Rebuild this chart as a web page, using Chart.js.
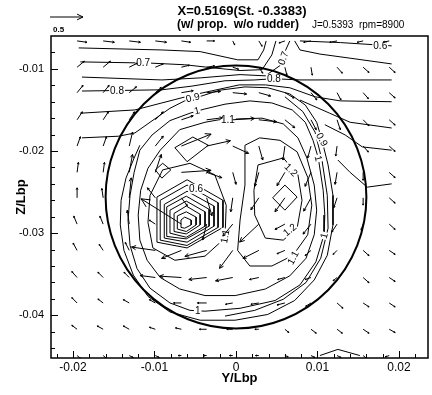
<!doctype html>
<html lang="en">
<head>
<meta charset="UTF-8" />
<title>Wake X=0.5169</title>
<style>
  body { margin: 0; background: #fff; }
  .chartBox { width: 432px; height: 395px; }
</style>
</head>
<body>
<div class="chartBox"><canvas id="myChart" width="432" height="395"></canvas></div>
<script src="https://cdn.jsdelivr.net/npm/chart.js"></script>
<script>
// all lengths below are in units of 1e-3 Lbp
const UNIT = 0.001;
const TITLE = "X=0.5169(St. -0.3383)";
const SUBTITLE = "(w/ prop.  w/o rudder)";
const RUN_INFO = "J=0.5393  rpm=8900";
const X_TICKS = [-0.02, -0.01, 0, 0.01, 0.02];
const Y_TICKS = [-0.04, -0.03, -0.02, -0.01];

// measurement grid for the cross-flow vectors
const X_GRID = [-19.5, -16.3, -13.1, -9.9, -6.7, -3.6, -0.4, 2.8, 6.0, 9.2, 12.4, 15.6, 18.8];
const Z_GRID = [-6.6, -9.8, -12.9, -16.2, -19.4, -22.6, -25.7, -28.9, -32.1, -35.4, -38.5, -41.7, -44.9];
// v/U and w/U, one row per Z_GRID value
const U = [
  [.15, .17, .17, .17, .14, .12, .03, .05, -.09, -.11, -.11, -.09, -.09],
  [.11, .11, .12, .12, .12, .12, .09, .06, .03, .02, .08, .09, .09],
  [.09, .09, .11, .09, .18, .21, .21, .18, .14, .09, .06, .08, .09],
  [.08, .08, .08, .12, .18, .24, .33, .27, .15, .08, .05, .09, .09],
  [.05, .05, .05, .12, .45, .36, .24, .06, -.03, -.05, -.02, .08, .09],
  [.02, .02, .05, .09, .45, .23, .05, -.06, -.12, -.09, -.03, 0, .09],
  [0, -.02, .03, -.12, .09, .08, -.03, -.12, -.15, -.11, -.05, 0, .09],
  [-.05, -.05, -.03, -.09, -.61, -.06, -.15, -.29, -.15, -.12, -.08, -.03, .09],
  [-.06, -.06, -.06, -.36, -.3, -.33, -.2, -.24, -.12, -.09, -.06, .09, .09],
  [-.08, -.08, -.08, -.23, -.33, -.27, -.26, -.14, -.11, -.09, -.06, .09, .09],
  [-.08, -.08, -.09, -.09, -.12, -.14, -.11, -.12, -.12, -.08, .09, .09, .09],
  [-.08, -.09, -.09, -.09, -.09, -.11, -.09, -.06, .06, .08, .08, .09, .09],
  [.06, .06, .06, .06, -.05, -.05, -.05, -.05, .05, .06, .06, .06, -.06]
];
const V = [
  [-.02, -.02, -.02, -.02, -.02, 0, -.06, -.08, -.03, -.02, -.02, -.02, -.02],
  [.09, .09, .06, .05, .03, .02, -.03, -.09, -.12, -.12, -.09, -.08, -.08],
  [.11, .11, .09, .08, .03, .02, -.02, -.05, -.08, -.11, -.11, -.09, -.08],
  [.12, .12, .12, .12, .06, .03, .02, -.03, -.12, -.15, -.15, -.09, -.08],
  [.14, .14, .21, .15, .18, .08, -.11, -.21, -.21, -.18, -.15, -.09, -.08],
  [.15, .15, .27, .27, .03, -.08, -.18, -.21, -.2, -.21, -.18, -.12, -.08],
  [.15, .14, .3, .15, -.12, -.27, -.21, -.18, -.21, -.2, -.15, -.11, -.08],
  [.12, .12, .21, .06, .38, -.24, -.18, -.27, -.08, -.15, -.12, -.09, -.08],
  [.11, .09, .12, .05, -.12, -.09, -.27, -.12, -.05, -.08, -.06, -.08, -.06],
  [.09, .08, .08, .03, .02, -.03, -.05, -.03, -.03, -.03, -.05, -.08, -.06],
  [.08, .06, .05, .05, 0, 0, -.02, -.02, -.03, -.05, -.08, -.06, -.06],
  [.06, .05, .05, .03, .02, 0, 0, 0, -.05, -.06, -.06, -.06, -.05],
  [-.05, -.05, -.03, -.03, 0, 0, 0, 0, -.02, -.03, -.03, -.05, -.02]
];
const VEC_REF = 0.5;      // reference arrow
const VEC_LEN = 8.1;      // 1e-3 Lbp per unit velocity

// propeller disk
const PROP_CENTER = [0.0, -25.6];
const PROP_RADIUS = 16.0;

// axial velocity contours, [y, z]
const LINE_T1 = [[-19.3, -7.45], [-9.1, -7.7], [-4.4, -7.9], [0.2, -8.9], [2.7, -8.9], [3.4, -7.7], [3.7, -6.6]];
const LINE_T2 = [[-19.1, -9.15], [-10.55, -9.3], [-6.3, -9.5], [-2.6, -9.9], [0.5, -10.2], [3.2, -10.1], [4.4, -8.3], [4.9, -6.6]];
const LINE_T3 = [[-18.9, -11.0], [-9.1, -11.35], [-4.4, -11.1], [0.5, -10.7], [3.6, -10.85], [5.4, -9.6], [6.1, -7.7], [6.6, -6.6]];
const LINE_T4 = [[-18.9, -12.7], [-9.1, -12.55], [-5.4, -12.1], [-1.35, -11.45], [2.3, -11.35], [4.65, -11.2], [7.85, -11.35], [11.5, -11.35], [15.2, -11.35], [19.1, -11.35]];
const LINE_T5 = [[-19.1, -15.4], [-12.4, -15.0], [-9.1, -14.15], [-5.4, -13.2], [0.4, -11.95], [3.6, -11.95], [6.6, -12.3], [9.7, -13.4], [12.8, -13.9], [19.1, -14.0]];
const LINE_R06 = [[7.85, -6.6], [12.8, -6.8], [19.1, -7.2]];
const LINE_R2 = [[7.2, -6.6], [7.85, -7.7], [10.3, -8.2], [14.0, -8.7], [19.1, -9.4]];
const LINE_R3 = [[7.85, -13.8], [11.5, -15.4], [14.0, -16.5], [19.1, -17.2]];
const LINE_R4 = [[10.9, -16.8], [13.4, -18.05], [15.5, -19.5], [19.1, -19.9]];
const LINE_R5 = [[12.5, -21.1], [14.0, -22.6], [16.1, -24.4], [19.1, -24.0]];
const RING_09 = [[-18.9, -18.4], [-14.4, -18.2], [-12.4, -17.8], [-10.55, -16.5], [-8.1, -14.8], [-6.3, -13.9], [-4.2, -13.3], [-2.0, -12.6], [1.1, -12.2], [3.9, -12.3], [6.6, -13.05], [8.5, -14.4], [9.9, -16.5], [10.55, -18.7], [11.3, -21.7], [11.9, -25.4], [11.9, -29.0], [11.2, -32.7], [9.6, -35.7], [7.2, -38.2], [3.9, -39.9], [-0.1, -40.6], [-4.4, -40.6], [-8.1, -39.6], [-10.8, -37.7], [-12.6, -35.1], [-13.75, -32.1], [-14.2, -29.0], [-14.1, -26.0], [-13.5, -23.3], [-12.5, -20.85], [-11.8, -19.3]];
const RING_09B = [[6.0, -13.4], [8.2, -15.2], [9.7, -17.7], [10.55, -21.1], [11.2, -25.4], [11.3, -29.4], [10.4, -33.05], [8.6, -36.0], [5.8, -38.05], [2.3, -39.4], [-1.35, -40.1]];
const RING_10 = [[-11.8, -19.9], [-10.3, -18.05], [-8.1, -16.3], [-5.65, -15.4], [-3.9, -14.9], [-1.35, -14.3], [1.7, -13.9], [4.4, -14.15], [6.9, -15.0], [8.5, -16.5], [9.45, -18.7], [10.1, -20.85], [10.7, -24.8], [10.9, -27.8], [10.8, -30.2], [9.8, -33.5], [7.85, -36.3], [4.8, -38.2], [0.5, -39.15], [-3.8, -39.5], [-5.65, -39.4], [-8.1, -38.5], [-10.55, -36.7], [-12.15, -34.3], [-13.0, -31.5], [-13.25, -28.4], [-13.0, -25.4], [-12.5, -22.6], [-11.8, -19.9]];
const RING_11 = [[-9.3, -19.9], [-6.9, -17.4], [-3.8, -16.5], [-2.1, -16.2], [0.2, -16.1], [3.2, -16.0], [5.8, -16.7], [7.6, -18.4], [8.7, -20.85], [9.6, -24.15], [9.9, -27.2], [9.6, -30.2], [8.6, -33.05], [6.6, -35.2], [3.6, -36.8], [-0.1, -37.6], [-3.8, -37.6], [-6.9, -36.8], [-9.3, -35.4], [-10.9, -33.3], [-11.8, -30.85], [-12.0, -27.8], [-11.7, -24.8], [-10.8, -22.1], [-9.3, -19.9]];
const LOBE_11 = [[1.1, -19.3], [2.9, -18.4], [5.4, -18.7], [7.5, -20.1], [8.8, -23.2], [9.3, -26.6], [8.8, -30.2], [7.0, -32.7], [4.4, -34.0], [1.7, -34.0], [0.2, -32.1], [0.5, -28.4], [1.1, -24.15], [1.1, -19.3]];
const LOBE_12 = [[2.7, -21.7], [5.8, -20.85], [7.6, -22.9], [8.1, -26.0], [7.5, -29.4], [5.8, -30.85], [3.6, -30.6], [2.3, -27.8], [2.2, -24.8], [2.7, -21.7]];
const PEAK_13 = [[4.5, -25.7], [6.0, -24.15], [7.5, -25.6], [6.0, -27.2], [4.5, -25.7]];
const UPPER_12 = [[-7.5, -19.6], [-5.3, -18.3], [-3.4, -19.3], [-6.0, -21.3], [-7.5, -19.6]];
const LEFT_12 = [[-9.9, -22.3], [-9.0, -21.5], [-8.0, -22.3], [-9.1, -23.3], [-9.9, -22.3]];
const CORE_11 = [[-10.55, -25.4], [-9.0, -22.3], [-5.65, -21.5], [-2.6, -22.9], [-1.2, -26.6], [-1.35, -30.6], [-3.8, -32.8], [-7.5, -33.3], [-10.2, -31.8], [-10.8, -28.7], [-10.55, -25.4]];
const CORE_RINGS = [
  [[-9.7, -25.6], [-6.0, -23.5], [-1.6, -26.0], [-1.6, -29.3], [-6.0, -31.8], [-9.7, -31.1], [-9.7, -25.6]],
  [[-9.3, -26.0], [-6.0, -24.15], [-2.2, -26.3], [-2.2, -29.3], [-6.0, -31.5], [-9.3, -30.85], [-9.3, -26.0]],
  [[-8.8, -26.5], [-6.0, -24.9], [-2.7, -26.7], [-2.7, -29.15], [-6.0, -31.1], [-8.8, -30.6], [-8.8, -26.5]],
  [[-8.5, -26.8], [-6.1, -25.5], [-3.3, -27.1], [-3.3, -29.15], [-6.1, -30.7], [-8.5, -30.4], [-8.5, -26.8]],
  [[-8.1, -27.2], [-6.1, -26.1], [-3.8, -27.4], [-3.8, -29.15], [-6.1, -30.5], [-8.1, -30.0], [-8.1, -27.2]],
  [[-7.6, -27.6], [-6.1, -26.7], [-4.4, -27.7], [-4.4, -29.0], [-6.1, -30.1], [-7.6, -29.8], [-7.6, -27.6]],
  [[-7.2, -27.9], [-6.1, -27.4], [-4.9, -28.05], [-4.9, -29.0], [-6.1, -29.8], [-7.2, -29.5], [-7.2, -27.9]],
  [[-6.75, -28.4], [-6.3, -28.05], [-5.5, -28.4], [-5.5, -29.0], [-6.3, -29.4], [-6.75, -29.3], [-6.75, -28.4]]
];
const HUMP = [[10.3, -44.9], [12.5, -44.15], [15.2, -44.9]];

const CONTOURS = [LINE_T1, LINE_T2, LINE_T3, LINE_T4, LINE_T5, LINE_R06, LINE_R2, LINE_R3, LINE_R4, LINE_R5,
  RING_09, RING_09B, RING_10, RING_11, LOBE_11, LOBE_12, PEAK_13, UPPER_12, LEFT_12, CORE_11, ...CORE_RINGS, HUMP];

// contour labels
const LABEL_TEXT = ["0.7", "0.8", "0.9", "1", "1.1", "0.6", "0.7", "0.8", "0.9", "1", "1.2", "1.2", "1", "1.1", "1.1", "0.6", "1"];
const LABEL_POS = [[-11.4, -9.3], [-14.6, -12.7], [-5.3, -13.5], [-4.8, -15.1], [-1.0, -16.2], [17.7, -7.2], [5.8, -8.7], [4.65, -11.2],
  [10.55, -18.6], [10.1, -20.9], [6.75, -22.3], [6.6, -29.6], [10.8, -30.3], [7.0, -33.0], [-1.35, -30.4], [-4.9, -24.6], [-4.7, -39.4]];
const LABEL_ANGLE = [0, 0, -14, -14, 0, 0, -70, 0, 62, 75, 45, -40, -75, -62, -80, 0, 0];

const FONT = '"Liberation Sans", Arial, sans-serif';
Chart.defaults.font.family = FONT;
Chart.defaults.color = "#000";

function drawArrow(ctx, x0, y0, x1, y1) {
  const dx = x1 - x0, dy = y1 - y0, len = Math.hypot(dx, dy);
  if (len < 0.5) return;
  const h = Math.max(1.5, len * 0.2), a = Math.atan2(dy, dx);
  ctx.beginPath();
  ctx.moveTo(x0, y0);
  ctx.lineTo(x1, y1);
  ctx.moveTo(x1 - h * Math.cos(a - 0.45), y1 - h * Math.sin(a - 0.45));
  ctx.lineTo(x1, y1);
  ctx.lineTo(x1 - h * Math.cos(a + 0.45), y1 - h * Math.sin(a + 0.45));
  ctx.stroke();
}

const background = {
  id: "background",
  beforeDraw(chart) {
    const { ctx, width, height } = chart;
    ctx.save();
    ctx.fillStyle = "#fff";
    ctx.fillRect(0, 0, width, height);
    ctx.restore();
  }
};

const overlay = {
  id: "overlay",
  afterDatasetsDraw(chart) {
    const { ctx, chartArea: { left, top, right, bottom }, scales: { x, y } } = chart;
    const px = v => x.getPixelForValue(v * UNIT);
    const py = v => y.getPixelForValue(v * UNIT);
    ctx.save();
    ctx.beginPath();
    ctx.rect(left, top, right - left, bottom - top);
    ctx.clip();

    // contour labels blank the line under them
    ctx.font = "10px " + FONT;
    ctx.textAlign = "center";
    ctx.textBaseline = "middle";
    LABEL_TEXT.forEach((t, i) => {
      ctx.save();
      ctx.translate(px(LABEL_POS[i][0]), py(LABEL_POS[i][1]));
      ctx.rotate(LABEL_ANGLE[i] * Math.PI / 180);
      const w = ctx.measureText(t).width + 2;
      ctx.fillStyle = "#fff";
      ctx.fillRect(-w / 2, -5, w, 10);
      ctx.fillStyle = "#000";
      ctx.fillText(t, 0, 0.5);
      ctx.restore();
    });

    // propeller disk
    ctx.strokeStyle = "#000";
    ctx.lineWidth = 2;
    ctx.beginPath();
    ctx.ellipse(px(PROP_CENTER[0]), py(PROP_CENTER[1]),
      Math.abs(px(PROP_RADIUS) - px(0)), Math.abs(py(PROP_RADIUS) - py(0)), 0, 0, 2 * Math.PI);
    ctx.stroke();

    // cross-flow vectors
    ctx.lineWidth = 1;
    Z_GRID.forEach((zz, j) => {
      X_GRID.forEach((xx, i) => {
        drawArrow(ctx, px(xx), py(zz), px(xx + U[j][i] * VEC_LEN), py(zz + V[j][i] * VEC_LEN));
      });
    });
    ctx.restore();
  },
  afterDraw(chart) {
    const { ctx, chartArea: { left, top, right, bottom }, scales: { x, y } } = chart;
    ctx.save();
    ctx.strokeStyle = "#000";
    ctx.lineWidth = 1.5;
    ctx.strokeRect(left, top, right - left, bottom - top);

    // inward tick marks, minor every 0.002
    ctx.lineWidth = 1;
    ctx.beginPath();
    for (let k = -11; k <= 11; k++) {
      const xp = Math.round(x.getPixelForValue(k * 0.002)) + 0.5;
      if (xp <= left + 1 || xp >= right - 1) continue;
      const len = k % 5 === 0 ? 7 : 4;
      ctx.moveTo(xp, bottom);
      ctx.lineTo(xp, bottom - len);
    }
    for (let k = -22; k <= -3; k++) {
      const yp = Math.round(y.getPixelForValue(k * 0.002)) + 0.5;
      if (yp <= top + 1 || yp >= bottom - 1) continue;
      const len = k % 5 === 0 ? 7 : 4;
      ctx.moveTo(left, yp);
      ctx.lineTo(left + len, yp);
    }
    ctx.stroke();

    // header
    ctx.fillStyle = "#000";
    ctx.textBaseline = "alphabetic";
    ctx.textAlign = "center";
    ctx.font = "bold 13px " + FONT;
    ctx.fillText(TITLE, 242, 15);
    ctx.textAlign = "left";
    ctx.font = "bold 12px " + FONT;
    ctx.fillText(SUBTITLE, 177, 28);
    ctx.font = "10px " + FONT;
    ctx.fillText(RUN_INFO, 312, 28);

    // reference vector
    const refLen = x.getPixelForValue(VEC_REF * VEC_LEN * UNIT) - x.getPixelForValue(0);
    drawArrow(ctx, left - 1, 17, left - 1 + refLen, 17);
    ctx.font = "bold 8px " + FONT;
    ctx.fillText(String(VEC_REF), left + 2, 32);
    ctx.restore();
  }
};

const tickLabel = v => (v === 0 ? "0" : v.toFixed(2));

const data = {
  datasets: CONTOURS.map(pts => ({
    data: pts.map(([yy, zz]) => ({ x: yy * UNIT, y: zz * UNIT })),
    showLine: true,
    borderColor: "#000",
    borderWidth: 1,
    pointRadius: 0,
    tension: 0,
    fill: false
  }))
};

const config = {
  type: "scatter",
  data: data,
  options: {
    responsive: false,
    animation: false,
    events: [],
    layout: { padding: { top: 36, right: 4, left: 0, bottom: 0 } },
    plugins: { legend: { display: false }, tooltip: { enabled: false } },
    scales: {
      x: {
        type: "linear",
        min: -0.0227,
        max: 0.02356,
        afterBuildTicks: s => { s.ticks = X_TICKS.map(v => ({ value: v })); },
        afterFit: s => { s.height = 37; },
        ticks: { callback: tickLabel, font: { size: 12 }, padding: 2, maxRotation: 0, autoSkip: false },
        grid: { display: false, drawTicks: false },
        border: { display: false },
        title: { display: true, text: "Y/Lbp", font: { size: 13, weight: "bold" }, padding: { top: 0, bottom: 9 } }
      },
      y: {
        type: "linear",
        min: -0.0452,
        max: -0.006,
        afterBuildTicks: s => { s.ticks = Y_TICKS.map(v => ({ value: v })); },
        afterFit: s => { s.width = 51; },
        ticks: { callback: tickLabel, font: { size: 11 }, padding: 7, autoSkip: false },
        grid: { display: false, drawTicks: false },
        border: { display: false },
        title: { display: true, text: "Z/Lbp", font: { size: 13, weight: "bold" }, padding: { top: 14, bottom: 0 } }
      }
    }
  },
  plugins: [background, overlay]
};

new Chart(document.getElementById("myChart").getContext("2d"), config);
</script>
</body>
</html>
